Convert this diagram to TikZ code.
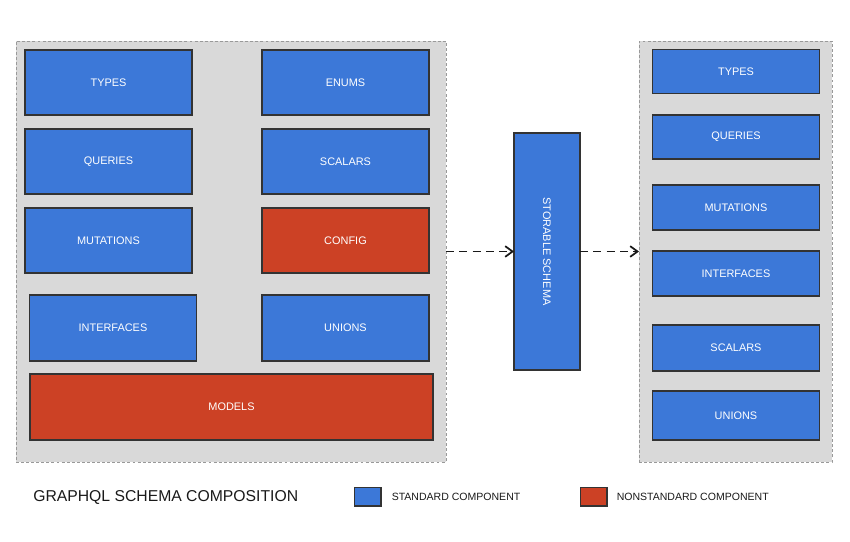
\documentclass[tikz,border=0pt]{standalone}
\usepackage{fontspec}
\setmainfont{Liberation Sans}
\usetikzlibrary{positioning,arrows.meta}

\definecolor{stdblue}{HTML}{3C78D8}
\definecolor{nonstdred}{HTML}{CC4125}
\definecolor{panelgray}{HTML}{D9D9D9}
\definecolor{edgegray}{HTML}{333333}

\begin{document}
\begin{tikzpicture}[x=0.75pt, y=-0.75pt,
    panel/.style={rectangle, draw=gray!80, dashed, dash pattern=on 2.2pt off 1.6pt, line width=0.7pt, fill=panelgray, inner sep=0pt, outer sep=0pt},
    comp/.style={rectangle, draw=edgegray, line width=1.2pt, fill=stdblue, text=white, inner sep=0pt, outer sep=0pt, text centered, font=\fontsize{8.2}{9}\selectfont},
    nonstd/.style={comp, fill=nonstdred},
    wide/.style={minimum width=125.25pt, minimum height=48.75pt},
    slim/.style={minimum width=125.25pt, minimum height=33pt},
    swatch/.style={rectangle, draw=edgegray, line width=1pt, minimum width=20pt, minimum height=14pt, inner sep=0pt},
    legendtext/.style={anchor=west, inner sep=0pt, font=\fontsize{7.9}{9}\selectfont, text=black!90},
    flow/.style={-{Straight Barb[length=5.5pt, width=8pt, line width=1.3pt]}, dashed, dash pattern=on 6pt off 4pt, line width=1.4pt, draw=black!90}]

\useasboundingbox (0,0) rectangle (850,542);

% Containers
\node[panel, minimum width=322.5pt, minimum height=315.75pt] (source) at (231,251.5) {};
\node[panel, minimum width=144.75pt, minimum height=315.75pt] (target) at (735.5,251.5) {};

% Source schema components
\node[comp, wide] (types) at (108.5,82.5) {TYPES};
\node[comp, wide] (enums) at (345.5,82.5) {ENUMS};
\node[comp, wide] (queries) at (108.5,161.5) {QUERIES};
\node[comp, wide] (scalars) at (345.5,161.5) {SCALARS};
\node[comp, wide] (mutations) at (108.5,240.5) {MUTATIONS};
\node[nonstd, wide] (config) at (345.5,240.5) {CONFIG};
\node[comp, wide, minimum height=49.5pt] (interfaces) at (113,328) {INTERFACES};
\node[comp, wide, minimum height=49.5pt] (unions) at (345.5,328) {UNIONS};
\node[nonstd, minimum width=302.25pt, minimum height=49.5pt] (models) at (231.5,407) {MODELS};

% Storable schema
\node[comp, minimum width=49.5pt, minimum height=177.75pt] (storable) at (547,251.5) {};
\node[rotate=-90, text=white, font=\fontsize{8.2}{9}\selectfont] at (storable.center) {STORABLE SCHEMA};

% Target schema components
\node[comp, slim] (ttypes) at (736,71.5) {TYPES};
\node[comp, slim] (tqueries) at (736,137) {QUERIES};
\node[comp, slim, minimum height=33.75pt] (tmutations) at (736,207.5) {MUTATIONS};
\node[comp, slim, minimum height=33.75pt] (tinterfaces) at (736,273.5) {INTERFACES};
\node[comp, slim, minimum height=34.5pt] (tscalars) at (736,348) {SCALARS};
\node[comp, slim, minimum height=36.75pt] (tunions) at (736,415.5) {UNIONS};

% Arrows
\draw[flow] (source.east |- storable.west) -- (storable.west);
\draw[flow] (storable.east) -- (target.west |- storable.east);

% Legend
\node[anchor=west, inner sep=0pt, font=\fontsize{11.8}{13}\selectfont, text=black!90] (title) at (33,497) {GRAPHQL SCHEMA COMPOSITION};
\node[swatch, fill=stdblue] (stdkey) at (367.5,496.5) {};
\node[legendtext, right=7.5pt of stdkey] (stdlabel) {STANDARD COMPONENT};
\node[swatch, fill=nonstdred] (nonstdkey) at (593.5,496.5) {};
\node[legendtext, right=6.75pt of nonstdkey] (nonstdlabel) {NONSTANDARD COMPONENT};

\end{tikzpicture}
\end{document}
